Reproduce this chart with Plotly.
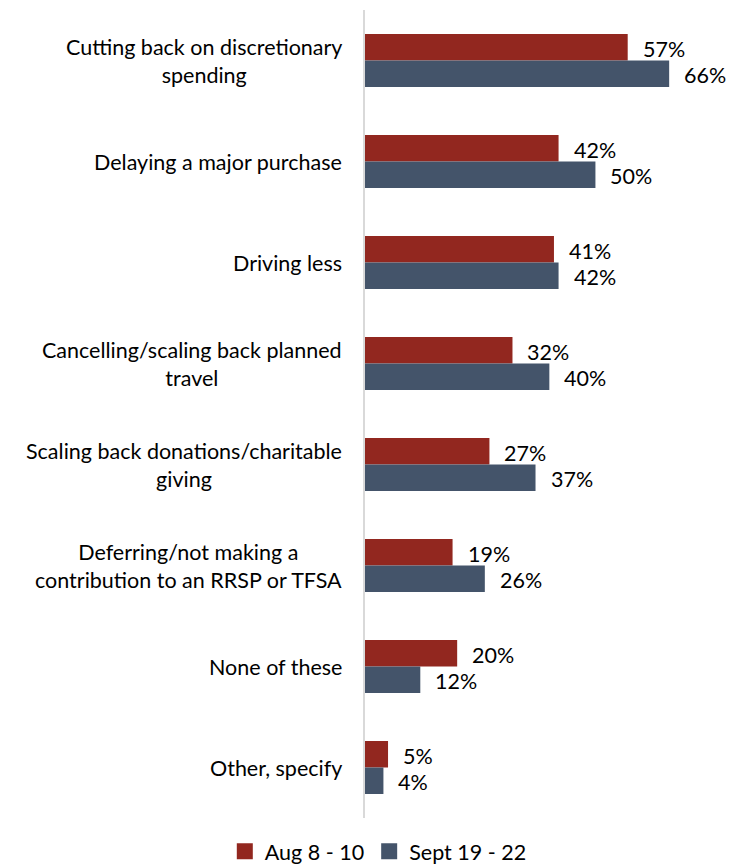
import plotly.graph_objects as go

categories = [
    "Cutting back on discretionary<br>spending",
    "Delaying a major purchase",
    "Driving less",
    "Cancelling/scaling back planned<br>travel",
    "Scaling back donations/charitable<br>giving",
    "Deferring/not making a<br>contribution to an RRSP or TFSA",
    "None of these",
    "Other, specify",
]
aug_values = [57, 42, 41, 32, 27, 19, 20, 5]
sept_values = [66, 50, 42, 40, 37, 26, 12, 4]
series_names = ["Aug 8 - 10", "Sept 19 - 22"]

RED = "#92271F"
BLUE = "#44546A"
FONT = "Lato, Open Sans, sans-serif"
LABEL_SIZE = 21.5

fig = go.Figure()
fig.add_trace(go.Bar(y=categories, x=aug_values, orientation="h", showlegend=False,
                     name=series_names[0], marker=dict(color=RED, line=dict(width=0))))
fig.add_trace(go.Bar(y=categories, x=sept_values, orientation="h", showlegend=False,
                     name=series_names[1], marker=dict(color=BLUE, line=dict(width=0))))

# legend keys with square swatches
for name, color in zip(series_names, [RED, BLUE]):
    fig.add_trace(go.Scatter(x=[None], y=[None], mode="markers", name=name,
                             marker=dict(symbol="square", size=16, color=color)))

annotations = []
# value labels beside each bar
for cat, a, s in zip(categories, aug_values, sept_values):
    annotations.append(dict(x=a, y=cat, xref="x", yref="y", text=f"{a}%",
                            showarrow=False, xanchor="left", xshift=13, yshift=12,
                            font=dict(family=FONT, size=LABEL_SIZE, color="#000")))
    annotations.append(dict(x=s, y=cat, xref="x", yref="y", text=f"{s}%",
                            showarrow=False, xanchor="left", xshift=13, yshift=-14,
                            font=dict(family=FONT, size=LABEL_SIZE, color="#000")))
    # centred category labels
    annotations.append(dict(x=0, y=cat, xref="paper", yref="y", text=cat,
                            showarrow=False, xanchor="right", align="center",
                            xshift=-21, font=dict(family=FONT, size=LABEL_SIZE, color="#000")))

fig.update_layout(
    width=736, height=865,
    margin=dict(l=365, r=0, t=10, b=47),
    paper_bgcolor="white", plot_bgcolor="white",
    barmode="group", bargap=0.475, bargroupgap=0,
    xaxis=dict(range=[0, 80.5], showgrid=False, zeroline=False,
               showticklabels=False, showline=False, fixedrange=True),
    yaxis=dict(autorange="reversed", showticklabels=False, showgrid=False,
               showline=True, linecolor="#D9D9D9", linewidth=2, ticks=""),
    legend=dict(orientation="h", xref="container", yref="container",
                x=0.514, xanchor="center", y=0.016, yanchor="middle",
                font=dict(family=FONT, size=LABEL_SIZE, color="#000"),
                itemwidth=30, traceorder="normal"),
    annotations=annotations,
    font=dict(family=FONT, size=LABEL_SIZE, color="#000"),
)

fig.write_html("out.html")
